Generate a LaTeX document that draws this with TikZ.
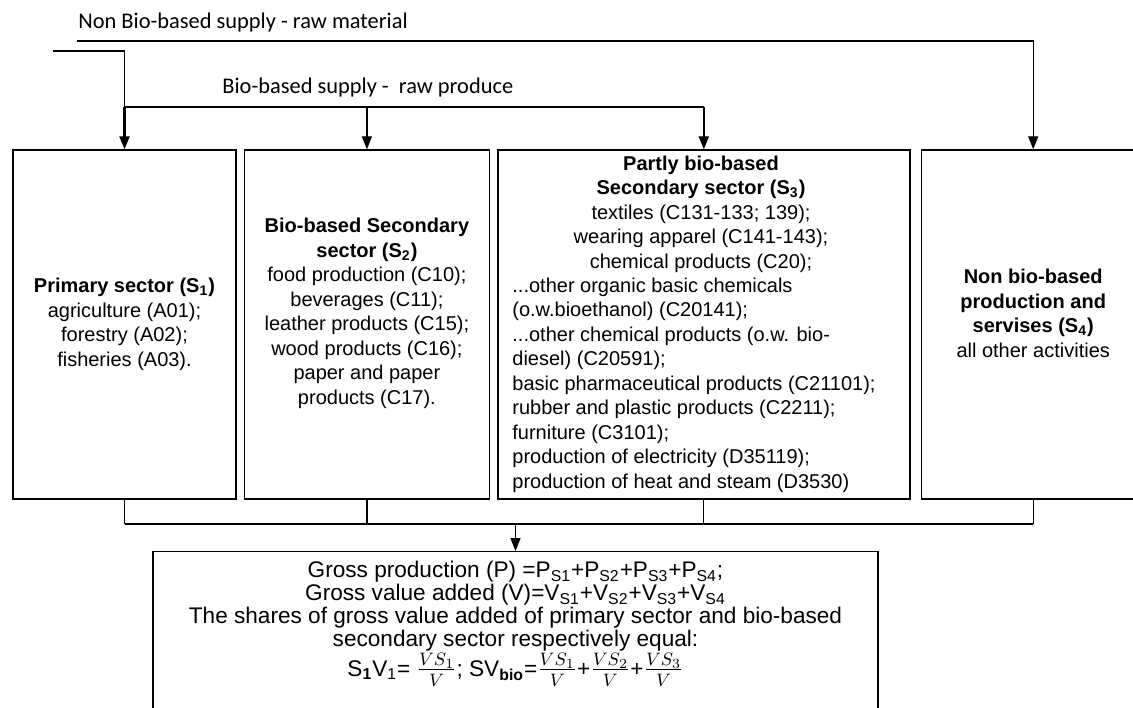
\documentclass[tikz,border=0pt]{standalone}
\usepackage{fontspec}
\setmainfont{Liberation Sans}
\newfontfamily\calib{Carlito}
\usetikzlibrary{positioning}
\usetikzlibrary{arrows.meta}

\newcommand{\shfrac}[2]{{\fontsize{13.5}{13.5}\selectfont$\frac{#1}{#2}$}}

\begin{document}
\begin{tikzpicture}[x=0.5pt,y=-0.5pt,>={Triangle[length=6.5pt,width=5pt]},
    box/.style={draw,line width=0.7pt,inner sep=0pt,minimum height=174.5pt},
    txt/.style={align=center,inner sep=0pt,font=\fontsize{10}{12.25}\selectfont},
    lbl/.style={inner sep=0pt,font=\calib\fontsize{11.2}{13}\selectfont},
    link/.style={line width=0.6pt},
    biolink/.style={line width=1.1pt}]

    \path[use as bounding box,clip] (0,0) rectangle (1133,707);

    \node[box,minimum width=111.5pt] (s1) at (124.5,324.5) {};
    \node[box,minimum width=122.5pt,right=3.5pt of s1] (s2) {};
    \node[box,minimum width=206pt,right=3.5pt of s2] (s3) {};
    \node[box,minimum width=112pt,right=5pt of s3] (s4) {};
    \node[box,minimum width=362.5pt,minimum height=100pt,anchor=north] (gp) at (515.5,551) {};

    \node[txt] (t1) at (s1) {\textbf{Primary sector (S\textsubscript{1})}\\agriculture (A01);\\forestry (A02);\\fisheries (A03).};
    \node[txt] (t2) at ([yshift=5.5pt]s2.center) {\textbf{Bio-based Secondary}\\\textbf{sector (S\textsubscript{2})}\\food production (C10);\\beverages (C11);\\leather products (C15);\\wood products (C16);\\paper and paper\\products (C17).};
    \node[txt] (t3) at (701,214) {\textbf{Partly bio-based}\\\textbf{Secondary sector (S\textsubscript{3})}\\textiles (C131-133; 139);\\wearing apparel (C141-143);\\chemical products (C20);};
    \node[txt,align=left,anchor=west] (t3list) at (512,385) {...other organic basic chemicals\\(o.w.bioethanol) (C20141);\\...other chemical products (o.w. bio-\\diesel) (C20591);\\basic pharmaceutical products (C21101);\\rubber and plastic products (C2211);\\furniture (C3101);\\production of electricity (D35119);\\production of heat and steam (D3530)};
    \node[txt] (t4) at ([yshift=5.5pt]s4.center) {\textbf{Non bio-based}\\\textbf{production and}\\\textbf{servises (S\textsubscript{4})}\\all other activities};
    \node[txt,font=\fontsize{11.3}{11.4}\selectfont] (gptxt) at (515.5,624) {Gross production (P) =P\textsubscript{S1}+P\textsubscript{S2}+P\textsubscript{S3}+P\textsubscript{S4};\\Gross value added (V)=V\textsubscript{S1}+V\textsubscript{S2}+V\textsubscript{S3}+V\textsubscript{S4}\\The shares of gross value added of primary sector and bio-based\\secondary sector respectively equal:\\S\textsubscript{\textbf{1}}V\textsubscript{1}= \shfrac{VS_1}{V}; SV\textsubscript{\textbf{bio}}=\shfrac{VS_1}{V}+\shfrac{VS_2}{V}+\shfrac{VS_3}{V}};

    \node[lbl,anchor=west] (nonbio) at (78,23) {Non Bio-based supply - raw material};
    \node[lbl,anchor=west] (bio) at (222,88) {Bio-based supply -\ \ raw produce};

    \coordinate (nbstart) at (77,41);
    \coordinate (bstart) at (53,51);
    \coordinate (bioy) at (0,107);
    \coordinate (sumy) at (0,524);

    \draw[link,->] (nbstart) -| (s4.north);
    \draw[link] (bstart) -| (s1.north |- bioy);
    \draw[biolink] (s1.north |- bioy) -- (s3.north |- bioy);
    \draw[biolink,->] (s1.north |- bioy) -- (s1.north);
    \draw[link,->] (s2.north |- bioy) -- (s2.north);
    \draw[biolink,->] (s3.north |- bioy) -- (s3.north);

    \draw[link] (s1.south) -- (s1.south |- sumy);
    \draw[link] (s2.south) -- (s2.south |- sumy);
    \draw[link] (s3.south) -- (s3.south |- sumy);
    \draw[link] (s4.south) -- (s4.south |- sumy);
    \draw[biolink] (s1.south |- sumy) -- (s4.south |- sumy);
    \draw[link,->] (gp.north |- sumy) -- (gp.north);

\end{tikzpicture}
\end{document}
